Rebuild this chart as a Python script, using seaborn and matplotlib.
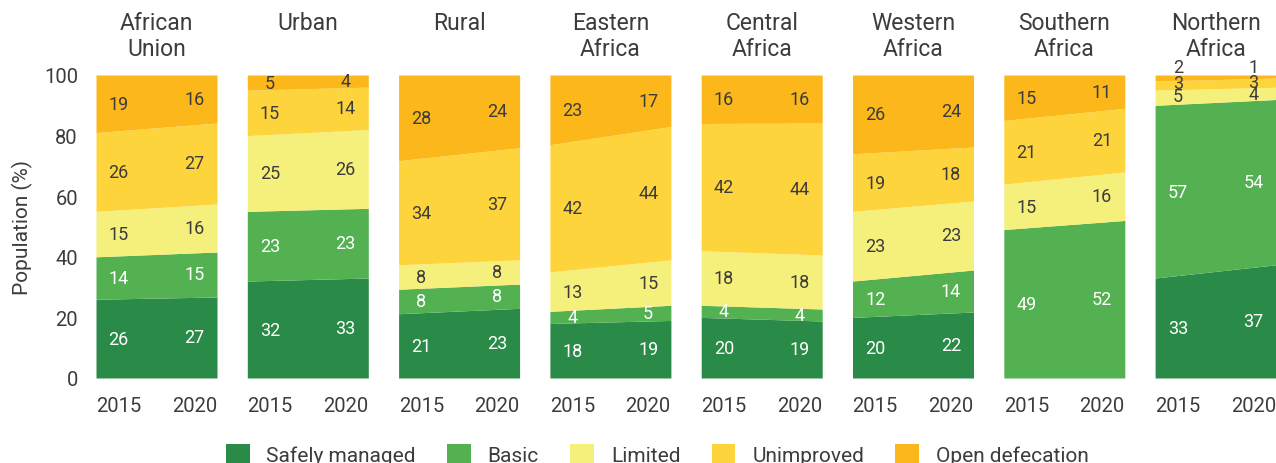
import numpy as np
import pandas as pd
import seaborn as sns
import matplotlib.pyplot as plt
from matplotlib.patches import Patch

sns.set_theme(style='white')
plt.rcParams['font.family'] = ['Roboto', 'DejaVu Sans']

regions = ['African\nUnion', 'Urban', 'Rural', 'Eastern\nAfrica', 'Central\nAfrica',
           'Western\nAfrica', 'Southern\nAfrica', 'Northern\nAfrica']
years = ['2015', '2020']
categories = ['Safely managed', 'Basic', 'Limited', 'Unimproved', 'Open defecation']

safely_2015 = [26, 32, 21, 18, 20, 20, None, 33]
safely_2020 = [27, 33, 23, 19, 19, 22, None, 37]
basic_2015 = [14, 23, 8, 4, 4, 12, 49, 57]
basic_2020 = [15, 23, 8, 5, 4, 14, 52, 54]
limited_2015 = [15, 25, 8, 13, 18, 23, 15, 5]
limited_2020 = [16, 26, 8, 15, 18, 23, 16, 4]
unimproved_2015 = [26, 15, 34, 42, 42, 19, 21, 3]
unimproved_2020 = [27, 14, 37, 44, 44, 18, 21, 3]
opendef_2015 = [19, 5, 28, 23, 16, 26, 15, 2]
opendef_2020 = [16, 4, 24, 17, 16, 24, 11, 1]

colors = ['#2a8a47', '#53b151', '#f5ef7b', '#fed43d', '#fcb71a']
label_colors = ['white', 'white', '#3c3c3c', '#3c3c3c', '#3c3c3c']
text_col = '#3c3c3c'

series = {
    'Safely managed': (safely_2015, safely_2020),
    'Basic': (basic_2015, basic_2020),
    'Limited': (limited_2015, limited_2020),
    'Unimproved': (unimproved_2015, unimproved_2020),
    'Open defecation': (opendef_2015, opendef_2020),
}

# label y overrides for the crowded top of Northern Africa
label_override = {(7, 2, 0): 93, (7, 3, 0): 97.3, (7, 4, 0): 102.8,
                  (7, 2, 1): 93.6, (7, 3, 1): 97.6, (7, 4, 1): 102.8}

fig = plt.figure(figsize=(12.76, 4.64), dpi=100)
W, H = 1276, 464
x_year = [2015, 2020]
x_edges = [2013.5, 2021.5]

for i, region in enumerate(regions):
    left = 96 + i * 151.3
    ax = fig.add_axes([left / W, 1 - 379 / H, 121 / W, 303 / H])
    vals = np.array([[series[c][0][i] or 0, series[c][1][i] or 0] for c in categories], dtype=float)
    shares = vals / vals.sum(axis=0) * 100
    ax.stackplot(x_edges, shares, colors=colors, linewidth=0)
    cum = np.cumsum(shares, axis=0)
    for k, c in enumerate(categories):
        for j in range(2):
            v = series[c][j][i]
            if v is None:
                continue
            y = cum[k, j] - shares[k, j] / 2
            y = label_override.get((i, k, j), y)
            ax.text(x_year[j], y, str(v), ha='center', va='center', fontsize=13,
                    color=label_colors[k], clip_on=False)
    ax.set_xlim(*x_edges)
    ax.set_ylim(0, 100)
    ax.set_xticks(x_year)
    ax.set_xticklabels(years, fontsize=14.5, color=text_col)
    ax.set_yticks([0, 20, 40, 60, 80, 100])
    if i == 0:
        ax.set_yticklabels(['0', '20', '40', '60', '80', '100'], fontsize=14.5, color=text_col)
        ax.set_ylabel('Population (%)', fontsize=15, color=text_col, labelpad=8)
    else:
        ax.set_yticklabels([])
    ax.tick_params(axis='x', length=0, pad=13)
    ax.tick_params(axis='y', length=0, pad=13)
    sns.despine(ax=ax, left=True, bottom=True)
    ax.text(0.5, 1.21, region, transform=ax.transAxes, ha='center', va='top',
            fontsize=16.5, color=text_col, linespacing=1.12)

handles = [Patch(facecolor=c, edgecolor='none') for c in colors]
fig.legend(handles, categories, loc='lower center', bbox_to_anchor=(0.515, -0.045), ncol=5,
           frameon=False, fontsize=15, handlelength=1.15, handleheight=1.15,
           handletextpad=0.8, columnspacing=1.5, labelcolor=text_col)

fig.savefig('out.png', dpi=100)
